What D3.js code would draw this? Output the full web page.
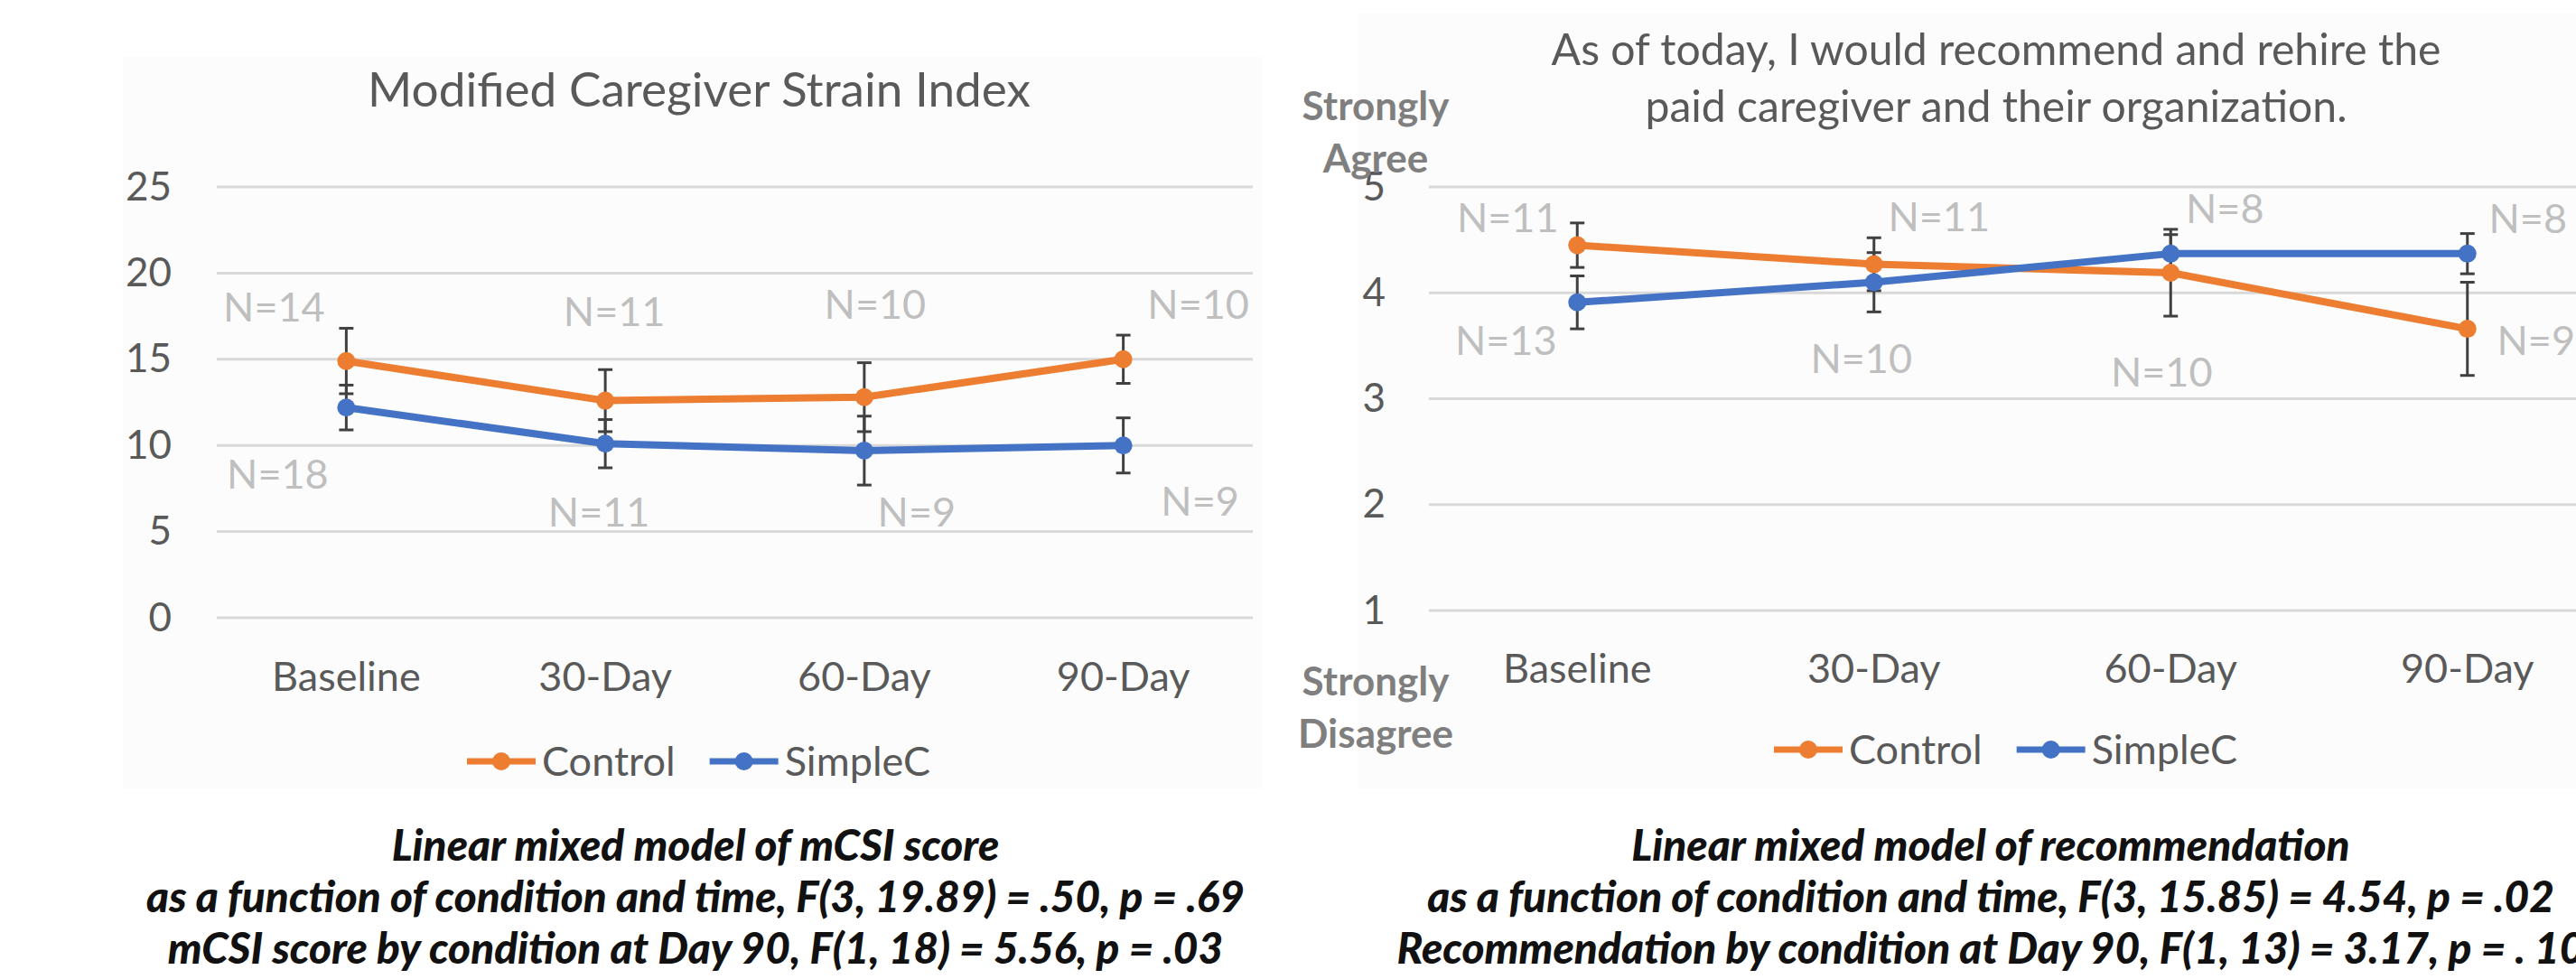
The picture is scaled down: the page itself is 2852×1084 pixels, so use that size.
<!DOCTYPE html>
<html>
<head>
<meta charset="utf-8">
<script src="https://cdn.jsdelivr.net/npm/d3@7"></script>
<style>
  html, body { margin: 0; padding: 0; background: #fff; }
  svg { display: block; }
  text { font-family: Lato, "Open Sans", sans-serif; }
</style>
</head>
<body>
<svg id="chart" width="2852" height="1084"></svg>
<script>
// categories shared by both charts
const categories = ["Baseline", "30-Day", "60-Day", "90-Day"];

// Modified Caregiver Strain Index
const mcsiTicks = [0, 5, 10, 15, 20, 25];
const mcsiControl = [14.9, 12.6, 12.8, 15.0];
const mcsiControlErr = [1.9, 1.8, 2.0, 1.4];
const mcsiSimple = [12.2, 10.1, 9.7, 10.0];
const mcsiSimpleErr = [1.3, 1.4, 2.0, 1.6];
const mcsiControlN = [14, 11, 10, 10];
const mcsiSimpleN = [18, 11, 9, 9];

// Recommend / rehire
const recTicks = [1, 2, 3, 4, 5];
const recControl = [4.45, 4.27, 4.19, 3.66];
const recControlErr = [0.21, 0.25, 0.41, 0.44];
const recSimple = [3.91, 4.10, 4.37, 4.37];
const recSimpleErr = [0.25, 0.28, 0.18, 0.19];
const recControlN = [11, 11, 10, 9];
const recSimpleN = [13, 10, 8, 8];

const seriesNames = ["Control", "SimpleC"];
const colors = { Control: "#ED7D31", SimpleC: "#4472C4" };

const svg = d3.select("#chart");

svg.append("rect").attr("width", 2852).attr("height", 1084).attr("fill", "#fff");

// scale a text's font so that one of its lines gets the wanted width
function fitText(textSel, lineNode, target) {
  const w = lineNode.getComputedTextLength();
  const fs = +textSel.attr("font-size");
  textSel.attr("font-size", (fs * target / w).toFixed(2));
}

// Draw one line chart panel
function drawPanel(opt) {
  const g = svg.append("g");

  g.append("rect")
    .attr("x", opt.panel[0]).attr("y", opt.panel[1])
    .attr("width", opt.panel[2]).attr("height", opt.panel[3])
    .attr("fill", "#fcfcfc");

  const x = d3.scaleBand().domain(categories).range(opt.xRange).padding(0);
  const cx = c => x(c) + x.bandwidth() / 2;
  const y = d3.scaleLinear().domain(opt.yDomain).range(opt.yRange);

  // gridlines
  g.append("g")
    .selectAll("line")
    .data(opt.ticks)
    .join("line")
    .attr("x1", opt.xRange[0]).attr("x2", opt.xRange[1])
    .attr("y1", d => y(d)).attr("y2", d => y(d))
    .attr("stroke", "#d9d9d9").attr("stroke-width", 3);

  // y axis labels
  const ya = g.append("g")
    .attr("transform", `translate(${opt.xRange[0]},0)`)
    .call(d3.axisLeft(y).tickValues(opt.ticks).tickFormat(d3.format("d"))
      .tickSize(0).tickPadding(opt.yPad));
  ya.select(".domain").remove();
  ya.selectAll("text").attr("font-size", 44).attr("fill", "#595959")
    .attr("font-family", "Lato");

  // x axis labels
  const xa = g.append("g")
    .attr("transform", `translate(0,${y(opt.yDomain[0])})`)
    .call(d3.axisBottom(x).tickSize(0).tickPadding(opt.xPad));
  xa.select(".domain").remove();
  xa.selectAll("text").attr("font-size", 45).attr("fill", "#595959")
    .attr("font-family", "Lato");

  const series = [
    { name: "Control", vals: opt.control, err: opt.controlErr, n: opt.controlN, off: opt.controlOff },
    { name: "SimpleC", vals: opt.simple, err: opt.simpleErr, n: opt.simpleN, off: opt.simpleOff }
  ];

  // error bars
  series.forEach(s => {
    const eb = g.append("g").attr("stroke", "#404040").attr("stroke-width", 3);
    categories.forEach((c, i) => {
      const lo = y(s.vals[i] - s.err[i]), hi = y(s.vals[i] + s.err[i]);
      eb.append("line").attr("x1", cx(c)).attr("x2", cx(c)).attr("y1", lo).attr("y2", hi);
      eb.append("line").attr("x1", cx(c) - 8).attr("x2", cx(c) + 8).attr("y1", lo).attr("y2", lo);
      eb.append("line").attr("x1", cx(c) - 8).attr("x2", cx(c) + 8).attr("y1", hi).attr("y2", hi);
    });
  });

  // lines + markers
  const line = d3.line().x((d, i) => cx(categories[i])).y(d => y(d));
  series.forEach(s => {
    g.append("path")
      .datum(s.vals)
      .attr("d", line)
      .attr("fill", "none")
      .attr("stroke", colors[s.name])
      .attr("stroke-width", 8)
      .attr("stroke-linejoin", "round");
    g.selectAll(null)
      .data(s.vals)
      .join("circle")
      .attr("cx", (d, i) => cx(categories[i]))
      .attr("cy", d => y(d))
      .attr("r", 10)
      .attr("fill", colors[s.name]);
  });

  // N labels
  series.forEach(s => {
    g.selectAll(null)
      .data(s.n)
      .join("text")
      .attr("x", (d, i) => cx(categories[i]) + s.off[i][0])
      .attr("y", (d, i) => y(s.vals[i]) + s.off[i][1])
      .attr("text-anchor", "middle")
      .attr("font-size", 45)
      .attr("fill", "#bfbfbf")
      .text(d => "N=" + d);
  });

  // title
  const t = g.append("text")
    .attr("text-anchor", "middle")
    .attr("font-size", 48)
    .attr("fill", "#595959");
  opt.title.forEach((line, i) => {
    t.append("tspan").attr("x", opt.titlePos[0]).attr("y", opt.titlePos[1] + i * opt.titleLead).text(line);
  });
  fitText(t, t.select("tspan").node(), opt.titleWidth);

  // legend
  const lg = g.append("g").attr("transform", `translate(${opt.legend[0]},${opt.legend[1]})`);
  let lx = 0;
  seriesNames.forEach(name => {
    lg.append("line").attr("x1", lx).attr("x2", lx + 76).attr("y1", 0).attr("y2", 0)
      .attr("stroke", colors[name]).attr("stroke-width", 7);
    lg.append("circle").attr("cx", lx + 38).attr("cy", 0).attr("r", 10).attr("fill", colors[name]);
    const tx = lg.append("text").attr("x", lx + 83).attr("y", 16)
      .attr("font-size", 45).attr("fill", "#595959").text(name);
    lx += 83 + tx.node().getComputedTextLength() + 38;
  });

  // caption
  const cap = svg.append("text")
    .attr("text-anchor", "middle")
    .attr("font-size", 46)
    .attr("font-weight", 900)
    .attr("font-style", "italic")
    .attr("fill", "#111");
  opt.caption.forEach((line, i) => {
    cap.append("tspan").attr("x", opt.capX).attr("y", 953 + i * 57).text(line);
  });
  fitText(cap, cap.selectAll("tspan").nodes()[1], opt.capWidth);
}

drawPanel({
  panel: [136, 63, 1262, 810],
  xRange: [240, 1387],
  yDomain: [0, 25],
  yRange: [684, 207],
  ticks: mcsiTicks,
  yPad: 50, xPad: 49,
  control: mcsiControl, controlErr: mcsiControlErr, controlN: mcsiControlN,
  simple: mcsiSimple, simpleErr: mcsiSimpleErr, simpleN: mcsiSimpleN,
  controlOff: [[-80, -44], [10, -83], [12, -87], [83, -45]],
  simpleOff: [[-76, 90], [-7, 92], [58, 84], [85, 78]],
  title: ["Modified Caregiver Strain Index"],
  titlePos: [774, 118], titleLead: 0, titleWidth: 734,
  legend: [517, 843],
  caption: [
    "Linear mixed model of mCSI score",
    "as a function of condition and time, F(3, 19.89) = .50, p = .69",
    "mCSI score by condition at Day 90, F(1, 18) = 5.56, p = .03"
  ],
  capX: 770, capWidth: 1216
});

drawPanel({
  panel: [1503, 15, 1349, 858],
  xRange: [1582, 2896],
  yDomain: [1, 5],
  yRange: [676, 207],
  ticks: recTicks,
  yPad: 48, xPad: 48,
  control: recControl, controlErr: recControlErr, controlN: recControlN,
  simple: recSimple, simpleErr: recSimpleErr, simpleN: recSimpleN,
  controlOff: [[-77, -14], [72, -37], [-10, 126], [76, 29]],
  simpleOff: [[-79, 58], [-14, 100], [60, -34], [67, -23]],
  title: ["As of today, I would recommend and rehire the", "paid caregiver and their organization."],
  titlePos: [2210, 72], titleLead: 63, titleWidth: 985,
  legend: [1964, 830],
  caption: [
    "Linear mixed model of recommendation",
    "as a function of condition and time, F(3, 15.85) = 4.54, p = .02",
    "Recommendation by condition at Day 90, F(1, 13) = 3.17, p = . 10"
  ],
  capX: 2204, capWidth: 1248
});

// scale end labels on the right chart
const endLabels = [
  { lines: ["Strongly", "Agree"], y: 133 },
  { lines: ["Strongly", "Disagree"], y: 770 }
];
endLabels.forEach(l => {
  const t = svg.append("text")
    .attr("text-anchor", "middle")
    .attr("font-size", 44)
    .attr("font-weight", 700)
    .attr("fill", "#7f7f7f");
  l.lines.forEach((s, i) => {
    t.append("tspan").attr("x", 1523).attr("y", l.y + i * 58).text(s);
  });
});
</script>
</body>
</html>
